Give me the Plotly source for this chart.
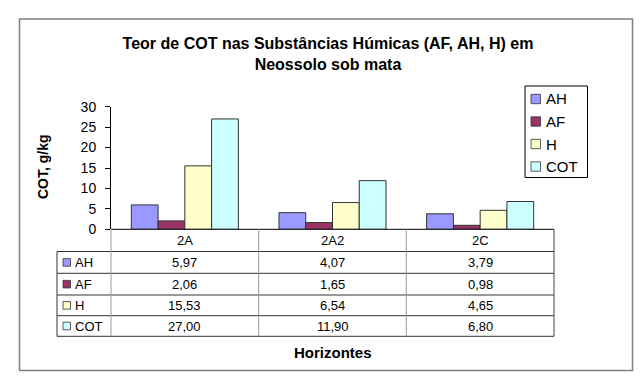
import plotly.graph_objects as go

# ---- data ----
categories = ["2A", "2A2", "2C"]
series_names = ["AH", "AF", "H", "COT"]
ah = [5.97, 4.07, 3.79]
af = [2.06, 1.65, 0.98]
h = [15.53, 6.54, 4.65]
cot = [27.00, 11.90, 6.80]
y_ticks = [0, 5, 10, 15, 20, 25, 30]

title_text = "Teor de COT nas Substâncias Húmicas (AF, AH, H) em<br>Neossolo sob mata"
y_title = "COT, g/kg"
x_title = "Horizontes"

series_values = [ah, af, h, cot]
colors = ["#9999FF", "#993366", "#FFFFCC", "#CCFFFF"]

W, H = 640, 378
FONT = "Liberation Sans, Arial, sans-serif"


def X(px):
    return px / W


def Y(py):
    return 1 - py / H


fig = go.Figure()
for name, vals, col in zip(series_names, series_values, colors):
    fig.add_trace(go.Bar(
        x=categories, y=vals, name=name,
        marker=dict(color=col, line=dict(color="#333333", width=1)),
        showlegend=False, hoverinfo="x+y+name",
    ))

shapes = []
annotations = []


def txt(x, y, text, size, xref="paper", xanchor="center", angle=0):
    annotations.append(dict(x=x, xref=xref, y=y, yref="paper",
                            xanchor=xanchor, yanchor="middle",
                            text=text, showarrow=False, textangle=angle,
                            font=dict(family=FONT, size=size, color="#000000")))


# outer border
shapes.append(dict(type="rect", xref="paper", yref="paper",
                   x0=X(19.5), x1=X(632.5), y0=Y(370.5), y1=Y(19),
                   line=dict(color="#808080", width=1.5)))

# table geometry
col_edges = [111, 258.7, 406.3, 554]
row_lines = [229.3, 251.5, 273.3, 295, 315.7, 336.3]
left_edge = 57

# horizontal lines
for i, ry in enumerate(row_lines):
    x0 = col_edges[0] if i == 0 else left_edge
    color = "#000000" if i == 0 else ("#999999" if i == 3 else "#333333")
    width = 1 if i != 3 else 2
    shapes.append(dict(type="line", xref="paper", yref="paper",
                       x0=X(x0), x1=X(col_edges[-1]), y0=Y(ry), y1=Y(ry),
                       line=dict(color=color, width=width)))
# vertical lines
for j, cx in enumerate(col_edges):
    shapes.append(dict(type="line", xref="paper", yref="paper",
                       x0=X(cx), x1=X(cx), y0=Y(row_lines[0]), y1=Y(row_lines[-1]),
                       line=dict(color="#999999" if j < 3 else "#444444", width=1)))
shapes.append(dict(type="line", xref="paper", yref="paper",
                   x0=X(left_edge), x1=X(left_edge), y0=Y(row_lines[1]), y1=Y(row_lines[-1]),
                   line=dict(color="#333333", width=1)))

# header row: category labels
hdr_c = (row_lines[0] + row_lines[1]) / 2
for c in categories:
    txt(c, Y(hdr_c), c, 13, xref="x")

# data rows
for i, (name, vals, col) in enumerate(zip(series_names, series_values, colors)):
    rc = (row_lines[i + 1] + row_lines[i + 2]) / 2
    shapes.append(dict(type="rect", xref="paper", yref="paper",
                       x0=X(63), x1=X(70.5), y0=Y(rc + 3.8), y1=Y(rc - 3.8),
                       fillcolor=col, line=dict(color="#333333", width=0.8)))
    txt(X(72.5), Y(rc), name, 13, xanchor="left")
    for c, v in zip(categories, vals):
        txt(c, Y(rc), f"{v:.2f}".replace(".", ","), 13, xref="x")

# legend (manual, Excel-like)
shapes.append(dict(type="rect", xref="paper", yref="paper",
                   x0=X(525), x1=X(587.5), y0=Y(177.5), y1=Y(86),
                   line=dict(color="#000000", width=1)))
leg_y = [99, 121.5, 144, 166.5]
for name, col, ly in zip(series_names, colors, leg_y):
    shapes.append(dict(type="rect", xref="paper", yref="paper",
                       x0=X(531), x1=X(540.5), y0=Y(ly + 4.7), y1=Y(ly - 4.7),
                       fillcolor=col, line=dict(color="#333333", width=0.8)))
    txt(X(544), Y(ly), name, 15, xanchor="left")

# axis titles
txt(X(43), Y(167), f"<b>{y_title}</b>", 14, angle=-90)
txt(X(333), Y(352), f"<b>{x_title}</b>", 15)

fig.update_layout(
    width=W, height=H,
    margin=dict(l=0, r=0, t=0, b=0, pad=0, autoexpand=False),
    paper_bgcolor="white", plot_bgcolor="white",
    title=dict(text=f"<b>{title_text}</b>", x=X(328), xanchor="center",
               y=Y(49), yanchor="middle", xref="paper", yref="paper",
               font=dict(family=FONT, size=16, color="#000000")),
    barmode="group", bargap=0.275, bargroupgap=0,
    xaxis=dict(domain=[X(111), X(554)], showticklabels=False, ticks="",
               showline=False, showgrid=False, zeroline=False, automargin=False),
    yaxis=dict(domain=[Y(229.3), Y(106.7)], range=[0, 30], tickvals=y_ticks,
               showline=True, linecolor="#000000", linewidth=1,
               ticks="outside", ticklen=5, tickcolor="#000000",
               ticklabelstandoff=6, automargin=False,
               showgrid=False, zeroline=False,
               tickfont=dict(family=FONT, size=14, color="#000000")),
    shapes=shapes, annotations=annotations,
    showlegend=False,
)

fig.write_html(
    "out.html",
    config={"displayModeBar": False},
    post_script="document.body.style.margin='0';document.body.style.overflow='hidden';",
)
